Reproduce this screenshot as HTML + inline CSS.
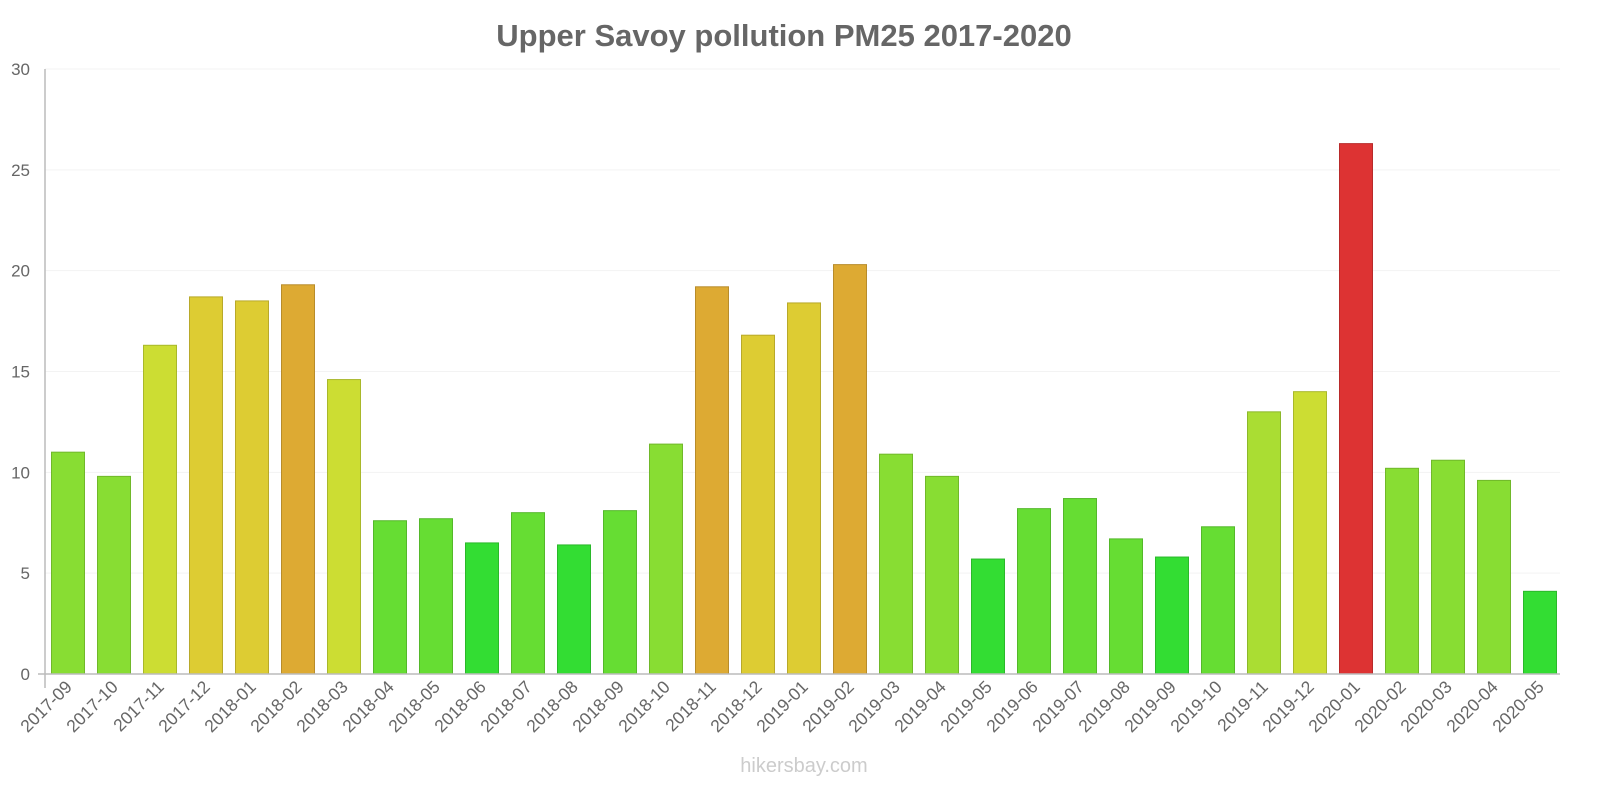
<!DOCTYPE html>
<html><head><meta charset="utf-8"><style>
body{margin:0;background:#fff;}
svg{display:block;font-family:"Liberation Sans",sans-serif;}
</style></head><body>
<svg id="chart" width="1600" height="800">
<text x="784" y="46" text-anchor="middle" font-size="31" font-weight="bold" fill="#666">Upper Savoy pollution PM25 2017-2020</text>
<g id="grid"></g><g id="bars"></g><g id="axes"></g>
<text x="804" y="772" text-anchor="middle" font-size="20" fill="#ccc">hikersbay.com</text>
</svg>
<script>
const categories=["2017-09","2017-10","2017-11","2017-12","2018-01","2018-02","2018-03","2018-04","2018-05","2018-06","2018-07","2018-08","2018-09","2018-10","2018-11","2018-12","2019-01","2019-02","2019-03","2019-04","2019-05","2019-06","2019-07","2019-08","2019-09","2019-10","2019-11","2019-12","2020-01","2020-02","2020-03","2020-04","2020-05"];
const values=[11.0,9.8,16.3,18.7,18.5,19.3,14.6,7.6,7.7,6.5,8.0,6.4,8.1,11.4,19.2,16.8,18.4,20.3,10.9,9.8,5.7,8.2,8.7,6.7,5.8,7.3,13.0,14.0,26.3,10.2,10.6,9.6,4.1];
const yTicks=[0,5,10,15,20,25,30];
const NS="http://www.w3.org/2000/svg";
const y0=674,yTop=69,yMax=30,xStart=68,step=46,bw=33;
function yScale(v){return y0-(v/yMax)*(y0-yTop);}
function xScale(i){return xStart+i*step;}
function color(v){
 if(v>=25)return["#dd3333","#b82a2a"];
 if(v>=19)return["#ddaa33","#b88c2a"];
 if(v>=16.5)return["#ddcc33","#b8a92a"];
 if(v>=13.5)return["#ccdd33","#a9b82a"];
 if(v>=12.5)return["#aadd33","#8cb82a"];
 if(v>=9)return["#88dd33","#70b82a"];
 if(v>=6.6)return["#66dd33","#54b82a"];
 return["#33dd33","#2ab82a"];
}
function mk(t,a,p){const e=document.createElementNS(NS,t);for(const k in a)e.setAttribute(k,a[k]);p.appendChild(e);return e;}
const grid=document.getElementById('grid'),bars=document.getElementById('bars'),axes=document.getElementById('axes');
yTicks.forEach(t=>{
 const y=yScale(t);
 if(t>0){const l=mk('line',{x1:45,x2:1560,y1:y,y2:y,stroke:'#f3f3f3'},grid);
 
 }
 const tx=mk('text',{x:30,y:y+6,'text-anchor':'end','font-size':17,fill:'#666'},axes);
 tx.textContent=t;
 
 
});
values.forEach((v,i)=>{
 const c=color(v);const y=yScale(v);
 const r=mk('rect',{x:xScale(i)-bw/2,y:y,width:bw,height:y0-y,fill:c[0],stroke:c[1],'stroke-width':1},bars);
 
 
});
let ax=mk('line',{x1:45,x2:45,y1:69,y2:688,stroke:'#bbb','stroke-width':1.5},axes);


ax=mk('line',{x1:38,x2:1560,y1:y0,y2:y0,stroke:'#bbb','stroke-width':1.5},axes);


categories.forEach((c,i)=>{
 const x=xScale(i)+5,y=688;
 const t=mk('text',{x:x,y:y,'text-anchor':'end','font-size':17.5,fill:'#666',transform:`rotate(-45 ${x} ${y})`},axes);
 t.textContent=c;
 
 
});
</script>
</body></html>
